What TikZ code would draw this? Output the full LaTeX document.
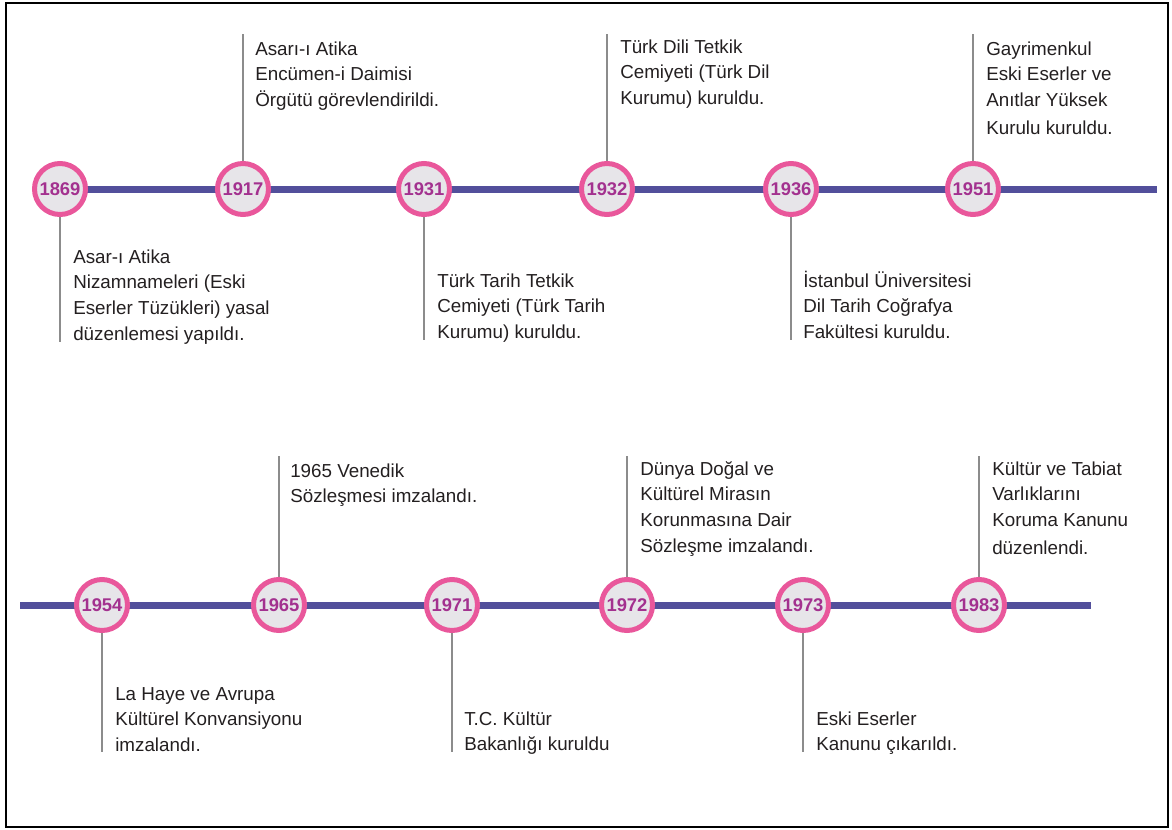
\documentclass[tikz,border=0pt]{standalone}
\usepackage{fontspec}
\setmainfont{Liberation Sans}
\definecolor{tlblue}{HTML}{524F9B}
\definecolor{ringpink}{HTML}{E9579B}
\definecolor{ringfill}{HTML}{E7E5E9}
\definecolor{yrcol}{HTML}{A3318F}
\definecolor{txtcol}{HTML}{231F20}
\definecolor{conncol}{HTML}{8C8C8C}
\newcommand\mylines[1]{\begin{tabular}[t]{@{}l@{}}#1\end{tabular}}
\begin{document}
\begin{tikzpicture}[x=0.75pt,y=-0.75pt,
  tline/.style={draw=tlblue,line width=5.25pt},
  yr/.style={circle,draw=ringpink,fill=ringfill,line width=3.75pt,minimum size=38.25pt,inner sep=0pt,
     text=yrcol,font=\bfseries\fontsize{13.8}{15}\selectfont},
  conn/.style={draw=conncol,line width=1.1pt},
  desc/.style={anchor=base west,inner sep=0pt,text=txtcol,font=\fontsize{14.1}{19.3}\selectfont}]
\useasboundingbox (0,0) rectangle (1172,829);
\draw[black,line width=1.5pt] (5.5,2.5) rectangle (1168,827);
% coordinates for line ends
\coordinate (tstart) at (60,189);
\coordinate (tend) at (1157,189);
\coordinate (bstart) at (20,605);
\coordinate (bend) at (1091,605);
\draw[tline] (tstart) -- (tend);
\draw[tline] (bstart) -- (bend);
% connector free ends
\coordinate (c1869) at (60,342);
\coordinate (c1917) at (243,34);
\coordinate (c1931) at (424,340);
\coordinate (c1932) at (607,34);
\coordinate (c1936) at (791,340);
\coordinate (c1951) at (973,34);
\coordinate (c1954) at (102,752);
\coordinate (c1965) at (279,456);
\coordinate (c1971) at (452,752);
\coordinate (c1972) at (627,456);
\coordinate (c1973) at (803,752);
\coordinate (c1983) at (979,456);
% year circles
\node[yr] (y1869) at (60,189) {1869};
\node[yr] (y1917) at (243,189) {1917};
\node[yr] (y1931) at (424,189) {1931};
\node[yr] (y1932) at (607,189) {1932};
\node[yr] (y1936) at (791,189) {1936};
\node[yr] (y1951) at (973,189) {1951};
\node[yr] (y1954) at (102,605) {1954};
\node[yr] (y1965) at (279,605) {1965};
\node[yr] (y1971) at (452,605) {1971};
\node[yr] (y1972) at (627,605) {1972};
\node[yr] (y1973) at (803,605) {1973};
\node[yr] (y1983) at (979,605) {1983};
% connectors
\draw[conn] (y1869.south) -- (c1869);
\draw[conn] (y1917.north) -- (c1917);
\draw[conn] (y1931.south) -- (c1931);
\draw[conn] (y1932.north) -- (c1932);
\draw[conn] (y1936.south) -- (c1936);
\draw[conn] (y1951.north) -- (c1951);
\draw[conn] (y1954.south) -- (c1954);
\draw[conn] (y1965.north) -- (c1965);
\draw[conn] (y1971.south) -- (c1971);
\draw[conn] (y1972.north) -- (c1972);
\draw[conn] (y1973.south) -- (c1973);
\draw[conn] (y1983.north) -- (c1983);
% descriptions
\node[desc] (t1869) at (73,263) {\mylines{Asar-ı Atika\\Nizamnameleri (Eski\\Eserler Tüzükleri) yasal\\düzenlemesi yapıldı.}};
\node[desc] (t1917) at (255,55) {\mylines{Asarı-ı Atika\\Encümen-i Daimisi\\Örgütü görevlendirildi.}};
\node[desc] (t1931) at (437,287) {\mylines{Türk Tarih Tetkik\\Cemiyeti (Türk Tarih\\Kurumu) kuruldu.}};
\node[desc] (t1932) at (620,53) {\mylines{Türk Dili Tetkik\\Cemiyeti (Türk Dil\\Kurumu) kuruldu.}};
\node[desc] (t1936) at (803,287) {\mylines{İstanbul Üniversitesi\\Dil Tarih Coğrafya\\Fakültesi kuruldu.}};
\node[desc] (t1951) at (986,55) {\mylines{Gayrimenkul\\Eski Eserler ve\\Anıtlar Yüksek\\[2pt]Kurulu kuruldu.}};
\node[desc] (t1954) at (115,700) {\mylines{La Haye ve Avrupa\\Kültürel Konvansiyonu\\imzalandı.}};
\node[desc] (t1965) at (290,477) {\mylines{1965 Venedik\\Sözleşmesi imzalandı.}};
\node[desc] (t1971) at (464,725) {\mylines{T.C. Kültür\\Bakanlığı kuruldu}};
\node[desc] (t1972) at (640,475) {\mylines{Dünya Doğal ve\\Kültürel Mirasın\\Korunmasına Dair\\Sözleşme imzalandı.}};
\node[desc] (t1973) at (816,725) {\mylines{Eski Eserler\\Kanunu çıkarıldı.}};
\node[desc] (t1983) at (992,475) {\mylines{Kültür ve Tabiat\\Varlıklarını\\Koruma Kanunu\\[2pt]düzenlendi.}};
\end{tikzpicture}
\end{document}
